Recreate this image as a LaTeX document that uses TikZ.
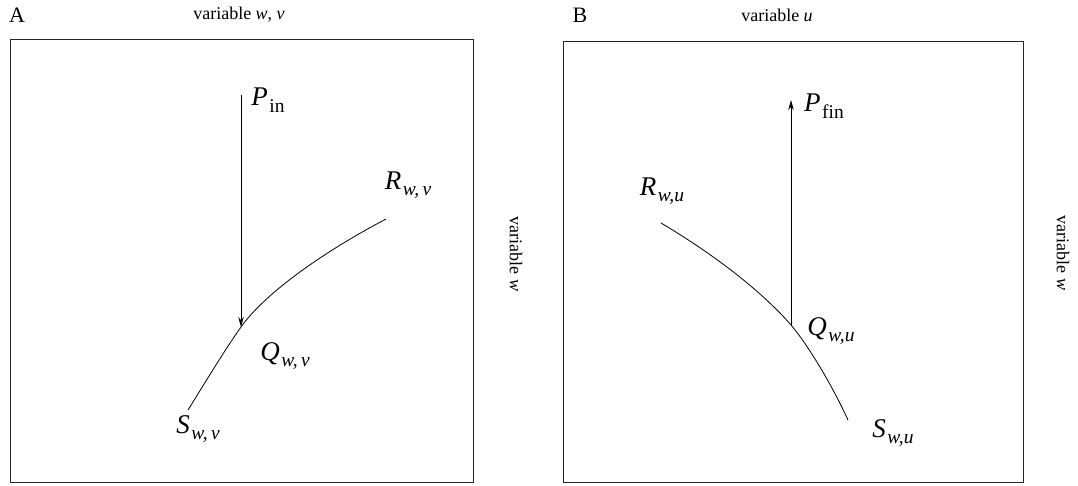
\documentclass[tikz,border=0pt]{standalone}
\usepackage{fontspec}
\setmainfont{Liberation Serif}
\usetikzlibrary{arrows.meta,positioning}

\newcommand{\lblsub}[2]{\textit{#1}\hspace{1.5pt}\raisebox{-6.5pt}{\fontsize{19.5}{20}\selectfont #2}}

\begin{document}
\begin{tikzpicture}[x=1pt, y=-1pt,
    frame/.style={draw=black!85, line width=1pt},
    title/.style={font=\fontsize{18}{20}\selectfont, inner sep=0pt},
    panel/.style={font=\fontsize{22}{24}\selectfont, inner sep=0pt},
    pointlbl/.style={font=\fontsize{27}{29}\selectfont, inner sep=0pt},
    curve/.style={line width=0.8pt},
    move/.style={line width=0.8pt, -{Stealth[length=10pt, width=5.5pt]}}
  ]
    \useasboundingbox (0,0) rectangle (1078,486);

    % Panel A
    \draw[frame] (10,40) rectangle (473,482);
    \node[panel] (lblA)  at (17,15)  {A};
    \node[title] (topA)  at (239,15) {variable \textit{w}, \textit{v}};
    \node[title, rotate=-90] (sideA) at (516,254) {variable \textit{w}};

    \coordinate (sA) at (188,410);
    \coordinate (qA) at (241,327);
    \coordinate (rA) at (386,219);
    \coordinate (pA) at (241,95);
    \draw[curve] (sA) .. controls (203,386) and (224,351) .. (qA)
                      .. controls (263,296) and (316,256) .. (rA);
    \draw[move] (pA) -- (qA);

    \node[pointlbl] (Pin) at (268,100) {\lblsub{P}{in}};
    \node[pointlbl] (RA)  at (408,185) {\lblsub{R}{\itshape w,\,v}};
    \node[pointlbl] (QA)  at (285,356) {\lblsub{Q}{\itshape w,\,v}};
    \node[pointlbl] (SA)  at (198,429) {\lblsub{S}{\itshape w,\,v}};

    % Panel B
    \draw[frame] (563,42) rectangle (1023,482);
    \node[panel] (lblB)  at (580,15)  {B};
    \node[title] (topB)  at (777,15)  {variable \textit{u}};
    \node[title, rotate=-90] (sideB) at (1063,253) {variable \textit{w}};

    \coordinate (rB) at (661,223);
    \coordinate (qB) at (791,325);
    \coordinate (sB) at (848,420);
    \coordinate (pB) at (791,100);
    \draw[curve] (rB) .. controls (720,258) and (765,295) .. (qB)
                      .. controls (808,345) and (832,385) .. (sB);
    \draw[move] (qB) -- (pB);

    \node[pointlbl] (Pfin) at (824,106) {\lblsub{P}{fin}};
    \node[pointlbl] (RB)   at (662,191) {\lblsub{R}{\itshape w,u}};
    \node[pointlbl] (QB)   at (831,331) {\lblsub{Q}{\itshape w,u}};
    \node[pointlbl] (SB)   at (893,433) {\lblsub{S}{\itshape w,u}};
\end{tikzpicture}
\end{document}
